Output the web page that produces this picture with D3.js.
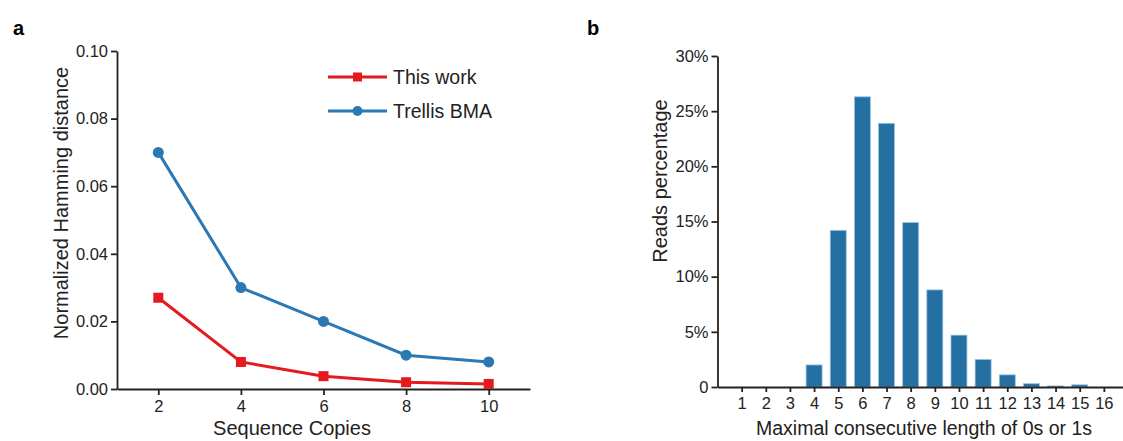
<!DOCTYPE html>
<html>
<head>
<meta charset="utf-8">
<script src="https://cdn.jsdelivr.net/npm/d3@7"></script>
<style>
  body { margin: 0; background: #fff; }
  svg { font-family: "Liberation Sans", Arial, sans-serif; }
  .axis path, .axis line { stroke: #222; stroke-width: 1.8; }
</style>
</head>
<body>
<div class="canvas"></div>
<script>
// panel a data
const copies = [2, 4, 6, 8, 10]
const thisWork = [0.027, 0.008, 0.0038, 0.002, 0.0015]
const trellis = [0.070, 0.030, 0.020, 0.010, 0.008]
const hammingTicks = [0, 0.02, 0.04, 0.06, 0.08, 0.10]

// panel b data
const runLengths = [1, 2, 3, 4, 5, 6, 7, 8, 9, 10, 11, 12, 13, 14, 15, 16]
const readsPct = [0, 0, 0, 2.0, 14.2, 26.3, 23.9, 14.9, 8.8, 4.7, 2.5, 1.1, 0.3, 0.1, 0.2, 0]
const pctTicks = [0, 5, 10, 15, 20, 25, 30]

const red = '#e41a1f'
const blue = '#2b78b3'

const svg = d3.select('.canvas').append('svg')
    .attr('width', 1123)
    .attr('height', 441)

// tick label styling (d3 puts font-size 10 on the axis group)
function styleAxis(g) {
  g.attr('font-size', 16.5).attr('font-family', '"Liberation Sans", Arial, sans-serif')
  g.selectAll('text').attr('fill', '#222')
}

// panel labels
svg.append('text').attr('x', 13).attr('y', 35).text('a')
    .style('font-size', '20px').style('font-weight', 'bold')
svg.append('text').attr('x', 587).attr('y', 35).text('b')
    .style('font-size', '20px').style('font-weight', 'bold')

// ---------- panel a ----------
const xA = d3.scaleLinear().domain([1, 11]).range([117, 530])
const yA = d3.scaleLinear().domain([0, 0.10]).range([389, 51])

svg.append('g').attr('class', 'axis')
    .attr('transform', 'translate(0,389)')
    .call(d3.axisBottom(xA).tickValues(copies).tickSize(6).tickSizeOuter(0).tickPadding(5))
    .call(styleAxis)

svg.append('g').attr('class', 'axis')
    .attr('transform', 'translate(117,0)')
    .call(d3.axisLeft(yA).tickValues(hammingTicks).tickFormat(d3.format('.2f')).tickSize(6).tickSizeOuter(0).tickPadding(3))
    .call(styleAxis)

const lineA = d3.line().x(d => xA(d[0])).y(d => yA(d[1]))

const seriesA = [
  {name: 'This work', values: thisWork, color: red, shape: 'square'},
  {name: 'Trellis BMA', values: trellis, color: blue, shape: 'circle'}
]

seriesA.forEach(s => {
  const pts = copies.map((c, i) => [c, s.values[i]])
  svg.append('path')
      .datum(pts)
      .attr('d', lineA)
      .attr('fill', 'none')
      .attr('stroke', s.color)
      .attr('stroke-width', 3)
  if (s.shape === 'square') {
    svg.selectAll(null).data(pts).enter().append('rect')
        .attr('x', d => xA(d[0]) - 5)
        .attr('y', d => yA(d[1]) - 5)
        .attr('width', 10).attr('height', 10)
        .attr('fill', s.color)
  } else {
    svg.selectAll(null).data(pts).enter().append('circle')
        .attr('cx', d => xA(d[0]))
        .attr('cy', d => yA(d[1]))
        .attr('r', 5.5)
        .attr('fill', s.color)
  }
})

// legend
seriesA.forEach((s, i) => {
  const ly = 77 + i * 34
  svg.append('line')
      .attr('x1', 328).attr('x2', 387)
      .attr('y1', ly).attr('y2', ly)
      .attr('stroke', s.color).attr('stroke-width', 3)
  if (s.shape === 'square') {
    svg.append('rect').attr('x', 353).attr('y', ly - 4.5)
        .attr('width', 9).attr('height', 9).attr('fill', s.color)
  } else {
    svg.append('circle').attr('cx', 357.5).attr('cy', ly).attr('r', 5).attr('fill', s.color)
  }
  svg.append('text')
      .attr('x', 393).attr('y', ly + 7)
      .text(s.name)
      .style('font-size', '19.5px')
      .attr('fill', '#222')
})

// axis titles
svg.append('text')
    .attr('transform', 'translate(68,203) rotate(-90)')
    .attr('text-anchor', 'middle')
    .text('Normalized Hamming distance')
    .style('font-size', '20px').attr('fill', '#222')

svg.append('text')
    .attr('x', 292).attr('y', 435)
    .attr('text-anchor', 'middle')
    .text('Sequence Copies')
    .style('font-size', '20px').attr('fill', '#222')

// ---------- panel b ----------
const xB = d3.scaleLinear().domain([0, 17]).range([717.5, 1128])
const yB = d3.scaleLinear().domain([0, 30]).range([387, 56])
const barW = 16

svg.selectAll('.bar').data(runLengths).enter().append('rect')
    .attr('class', 'bar')
    .attr('x', (d, i) => xB(d) - barW / 2)
    .attr('y', (d, i) => yB(readsPct[i]))
    .attr('width', barW)
    .attr('height', (d, i) => yB(0) - yB(readsPct[i]))
    .attr('fill', '#2570a3')
    .attr('stroke', '#9cc3df')
    .attr('stroke-width', 0.8)

svg.append('g').attr('class', 'axis')
    .attr('transform', 'translate(0,387)')
    .call(d3.axisBottom(xB).tickValues(runLengths).tickSize(5).tickSizeOuter(0).tickPadding(5))
    .call(styleAxis)

svg.append('g').attr('class', 'axis')
    .attr('transform', 'translate(717.5,0)')
    .call(d3.axisLeft(yB).tickValues(pctTicks).tickFormat(d => d === 0 ? '0' : d + '%').tickSize(6).tickSizeOuter(0).tickPadding(3))
    .call(styleAxis)

svg.append('text')
    .attr('transform', 'translate(667,181) rotate(-90)')
    .attr('text-anchor', 'middle')
    .text('Reads percentage')
    .style('font-size', '20px').attr('fill', '#222')

svg.append('text')
    .attr('x', 924).attr('y', 435)
    .attr('text-anchor', 'middle')
    .text('Maximal consecutive length of 0s or 1s')
    .style('font-size', '19.5px').attr('fill', '#222')
</script>
</body>
</html>
